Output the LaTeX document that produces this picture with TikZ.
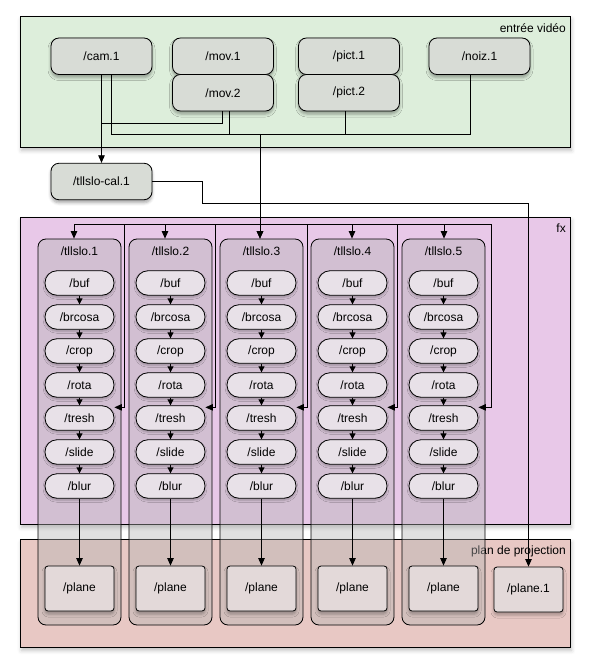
\documentclass[tikz,border=0pt]{standalone}
\usepackage{fontspec}
\setmainfont{Liberation Sans}
\usetikzlibrary{arrows.meta,shadows.blur}
\definecolor{cin}{HTML}{DDEEDB}
\definecolor{cfx}{HTML}{E8C8E8}
\definecolor{cplan}{HTML}{E8C8C4}
\definecolor{cnode}{HTML}{D8DCD6}
\definecolor{cpill}{HTML}{E8E1E8}
\definecolor{cplane}{HTML}{E3D9D9}
\tikzset{
  wire/.style={draw, line width=0.8pt},
  arr/.style={wire, -{Triangle[length=7.5pt,width=6.5pt]}},
  sarr/.style={wire, -{Triangle[length=6pt,width=6pt]}},
  zone/.style={draw, line width=0.9pt, inner sep=0pt, anchor=north west,
    minimum width=550pt, blur shadow={shadow xshift=1pt, shadow yshift=-3pt, shadow blur radius=4pt, shadow opacity=25}},
  zonelabel/.style={inner sep=0pt, anchor=east},
  src/.style={draw, line width=0.8pt, rounded corners=8pt, fill=cnode,
    minimum width=101pt, minimum height=36.5pt, inner sep=0pt,
    blur shadow={shadow xshift=0pt, shadow yshift=-3pt, shadow blur radius=3pt, shadow opacity=35}},
  cont/.style={draw, line width=0.8pt, rounded corners=8pt, fill=black!30,
    fill opacity=0.4, minimum width=83pt, minimum height=386pt, inner sep=0pt},
  ttl/.style={inner sep=0pt},
  pill/.style={draw, line width=0.8pt, rounded corners=12pt, fill=cpill,
    minimum width=69pt, minimum height=24.5pt, inner sep=0pt,
    blur shadow={shadow xshift=0pt, shadow yshift=-2pt, shadow blur radius=2pt, shadow opacity=25}},
  planebox/.style={draw, line width=0.8pt, rounded corners=3pt, fill=cplane,
    minimum width=69pt, minimum height=45pt, inner sep=0pt,
    blur shadow={shadow xshift=0pt, shadow yshift=-3pt, shadow blur radius=3pt, shadow opacity=30}}
}
\begin{document}
\begin{tikzpicture}[x=1pt,y=-1pt,font=\fontsize{12}{14}\selectfont]
\useasboundingbox (0,0) rectangle (591,671);
% zones
\node[zone, fill=cin, minimum height=131pt] (zin) at (20,16) {};
\node[zone, fill=cfx, minimum height=307pt] (zfx) at (20,217) {};
\node[zone, fill=cplan, minimum height=108pt] (zpl) at (20,539) {};
\node[zonelabel] (lin) at (566,28) {entrée vidéo};
\node[zonelabel] (lfx) at (566,228) {fx};
\node[zonelabel] (lpl) at (566,551) {plan de projection};
% sources
\node[src] (cam) at (101.5,56.25) {/cam.1};
\node[src] (mov1) at (223,56.25) {/mov.1};
\node[src] (mov2) at (223,92.75) {/mov.2};
\node[src] (pict1) at (349,56.25) {/pict.1};
\node[src] (pict2) at (349,92.75) {/pict.2};
\node[src] (noiz) at (479.5,56.25) {/noiz.1};
\node[src] (cal) at (101.5,181.5) {/tllslo-cal.1};
% columns
\foreach \k/\xc/\dx/\vx in {1/79.5/74/124, 2/170.5/165/215, 3/261.5/260/307, 4/352.5/352/397, 5/443.5/444/491} {
  \node[cont] (t\k) at (\xc,432) {};
  \node[ttl] (tt\k) at (\xc,251) {/tllslo.\k};
  \foreach \nm/\yy in {buf/283, brcosa/317, crop/351, rota/385, tresh/418, slide/452, blur/486}
    \node[pill] (\nm\k) at (\xc,\yy) {/\nm};
  \node[planebox] (p\k) at (\xc,588.5) {/plane};
  \draw[sarr] (buf\k) -- (brcosa\k);
  \draw[sarr] (brcosa\k) -- (crop\k);
  \draw[sarr] (crop\k) -- (rota\k);
  \draw[sarr] (rota\k) -- (tresh\k);
  \draw[sarr] (tresh\k) -- (slide\k);
  \draw[sarr] (slide\k) -- (blur\k);
  \draw[arr] (blur\k) -- (p\k);
  \coordinate (d\k) at (\dx,224);
  \coordinate (v\k) at (\vx,224);
  \draw[arr] (d\k) -- (d\k |- t\k.north);
  \draw[arr] (v\k) |- ([yshift=-2pt]tresh\k.north east);
}
\draw[wire] (d1) -- (v5);
\node[planebox] (pl1) at (528.5,589.5) {/plane.1};
% input wires
\coordinate (k1) at (101.5,123);
\coordinate (k2) at (222,123);
\coordinate (j1) at (111,134);
\coordinate (j2) at (229,134);
\coordinate (j3) at (345,134);
\coordinate (j4) at (470,134);
\coordinate (m) at (260,134);
\draw[wire] (j1 |- cam.south) -- (j1) -- (j4) -- (j4 |- noiz.south);
\draw[wire] (j2 |- mov2.south) -- (j2);
\draw[wire] (j3 |- pict2.south) -- (j3);
\draw[arr] (m) -- (m |- t3.north);
\draw[arr] (cam.south) -- (cal.north);
\draw[wire] (k2 |- mov2.south) -- (k2) -- (k1);
\coordinate (q) at (202,203);
\draw[arr] (cal.east) -| (q) -| (pl1.north);
\end{tikzpicture}
\end{document}
